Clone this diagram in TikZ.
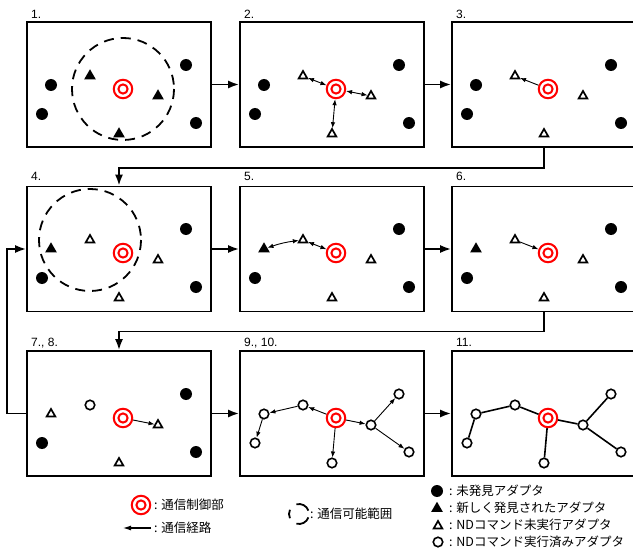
\documentclass[tikz,border=0pt]{standalone}
\usepackage{fontspec}
\setmainfont{Liberation Sans}
\newfontfamily\jp{Noto Sans CJK JP}
\usetikzlibrary{shapes.geometric,arrows.meta}
\tikzset{
  panel/.style={draw, line width=1.8pt, minimum width=184pt, minimum height=125pt, inner sep=0pt},
  fc/.style={circle, fill=black, minimum size=12pt, inner sep=0pt},
  ft/.style={regular polygon, regular polygon sides=3, fill=black, minimum size=13.5pt, inner sep=0pt},
  ot/.style={regular polygon, regular polygon sides=3, draw, line width=1.7pt, minimum size=10pt, inner sep=0pt},
  oc/.style={circle, draw, line width=1.6pt, minimum size=9.5pt, inner sep=0pt},
  tgt/.style={circle, draw=red, line width=2pt, minimum size=18.5pt, inner sep=0pt,
    path picture={\draw[red, line width=2pt] (path picture bounding box.center) circle[radius=4.6pt];}},
  rangeline/.style={line width=1.8pt, dash pattern=on 10pt off 7pt},
  flow/.style={line width=1.8pt, -{Latex[length=11pt,width=8pt]}},
  comm/.style={line width=0.9pt, -{Latex[length=6pt,width=4.5pt]}},
  comm2/.style={line width=0.9pt, {Latex[length=6pt,width=4.5pt]}-{Latex[length=6pt,width=4.5pt]}},
  link/.style={line width=1.6pt},
  lab/.style={anchor=base west, inner sep=0pt, font=\fontsize{12}{14}\selectfont},
  leg/.style={anchor=west, inner sep=0pt, font=\jp\fontsize{12.5}{14}\selectfont},
}
\begin{document}
\begin{tikzpicture}[x=1pt,y=-1pt]
\useasboundingbox (0,0) rectangle (633,551);
\clip (0,0) rectangle (633,551);

% ---------- panel 1 ----------
\node[panel] (b1) at (119,84.5) {};
\node[lab] (n1) at (31,19) {1.};
\node[fc] (p1a) at (51,85) {};
\node[fc] (p1b) at (42,114) {};
\node[fc] (p1c) at (186,65) {};
\node[fc] (p1d) at (196,123) {};
\node[ft] (p1t) at (90,76) {};
\node[ft] (p1u) at (158,96) {};
\node[ft] (p1v) at (119,134) {};
\node[tgt] (p1r) at (123,89) {};
\draw[rangeline] (p1r.center) circle[radius=51];

% ---------- panel 2 ----------
\begin{scope}[shift={(213,0)}]
\node[panel] (b2) at (119,84.5) {};
\node[lab] (n2) at (31,19) {2.};
\node[fc] (p2a) at (51,85) {};
\node[fc] (p2b) at (42,114) {};
\node[fc] (p2c) at (186,65) {};
\node[fc] (p2d) at (196,123) {};
\node[ot] (p2t) at (90,76) {};
\node[ot] (p2u) at (158,96) {};
\node[ot] (p2v) at (119,134) {};
\node[tgt] (p2r) at (123,89) {};
\draw[comm2] (p2r) -- (p2t);
\draw[comm2] (p2r) -- (p2u);
\draw[comm2] (p2r) -- (p2v);
\end{scope}

% ---------- panel 3 ----------
\begin{scope}[shift={(425,0)}]
\node[panel] (b3) at (119,84.5) {};
\node[lab] (n3) at (31,19) {3.};
\node[fc] (p3a) at (51,85) {};
\node[fc] (p3b) at (42,114) {};
\node[fc] (p3c) at (186,65) {};
\node[fc] (p3d) at (196,123) {};
\node[ot] (p3t) at (90,76) {};
\node[ot] (p3u) at (158,96) {};
\node[ot] (p3v) at (119,134) {};
\node[tgt] (p3r) at (123,89) {};
\draw[comm] (p3r) -- (p3t);
\end{scope}

% ---------- panel 4 ----------
\begin{scope}[shift={(0,164)}]
\node[panel] (b4) at (119,85) {};
\node[lab] (n4) at (31,17) {4.};
\node[ft] (p4a) at (51,85) {};
\node[fc] (p4b) at (42,114) {};
\node[fc] (p4c) at (186,65) {};
\node[fc] (p4d) at (196,123) {};
\node[ot] (p4t) at (90,76) {};
\node[ot] (p4u) at (158,96) {};
\node[ot] (p4v) at (119,134) {};
\node[tgt] (p4r) at (123,89) {};
\draw[rangeline] (p4t.center) circle[radius=51];
\end{scope}

% ---------- panel 5 ----------
\begin{scope}[shift={(213,164)}]
\node[panel] (b5) at (119,85) {};
\node[lab] (n5) at (31,17) {5.};
\node[ft] (p5a) at (51,85) {};
\node[fc] (p5b) at (42,114) {};
\node[fc] (p5c) at (186,65) {};
\node[fc] (p5d) at (196,123) {};
\node[ot] (p5t) at (90,76) {};
\node[ot] (p5u) at (158,96) {};
\node[ot] (p5v) at (119,134) {};
\node[tgt] (p5r) at (123,89) {};
\draw[comm2] (p5a) to[bend left=6] (p5t);
\draw[comm2] (p5t) -- (p5r);
\end{scope}

% ---------- panel 6 ----------
\begin{scope}[shift={(425,164)}]
\node[panel] (b6) at (119,85) {};
\node[lab] (n6) at (31,17) {6.};
\node[ft] (p6a) at (51,85) {};
\node[fc] (p6b) at (42,114) {};
\node[fc] (p6c) at (186,65) {};
\node[fc] (p6d) at (196,123) {};
\node[ot] (p6t) at (90,76) {};
\node[ot] (p6u) at (158,96) {};
\node[ot] (p6v) at (119,134) {};
\node[tgt] (p6r) at (123,89) {};
\draw[comm] (p6t) -- (p6r);
\end{scope}

% ---------- panel 7,8 ----------
\begin{scope}[shift={(0,329)}]
\node[panel] (b7) at (119,84.5) {};
\node[lab] (n7) at (31,17) {7., 8.};
\node[ot] (p7a) at (51,85) {};
\node[fc] (p7b) at (42,114) {};
\node[fc] (p7c) at (186,65) {};
\node[fc] (p7d) at (196,123) {};
\node[oc] (p7t) at (90,76) {};
\node[ot] (p7u) at (158,96) {};
\node[ot] (p7v) at (119,134) {};
\node[tgt] (p7r) at (123,89) {};
\draw[comm] (p7r) -- (p7u);
\end{scope}

% ---------- panel 9,10 ----------
\begin{scope}[shift={(213,329)}]
\node[panel] (b9) at (119,84.5) {};
\node[lab] (n9) at (31,17) {9., 10.};
\node[oc] (p9a) at (51,85) {};
\node[oc] (p9b) at (42,114) {};
\node[oc] (p9c) at (186,65) {};
\node[oc] (p9d) at (196,123) {};
\node[oc] (p9t) at (90,76) {};
\node[oc] (p9u) at (158,96) {};
\node[oc] (p9v) at (119,134) {};
\node[tgt] (p9r) at (123,89) {};
\draw[comm] (p9r) -- (p9t);
\draw[comm] (p9t) -- (p9a);
\draw[comm] (p9a) -- (p9b);
\draw[comm] (p9r) -- (p9u);
\draw[comm] (p9u) -- (p9c);
\draw[comm] (p9u) -- (p9d);
\draw[comm] (p9r) -- (p9v);
\end{scope}

% ---------- panel 11 ----------
\begin{scope}[shift={(425,329)}]
\node[panel] (b11) at (119,84.5) {};
\node[lab] (n11) at (31,17) {11.};
\node[oc] (p11a) at (51,85) {};
\node[oc] (p11b) at (42,114) {};
\node[oc] (p11c) at (186,65) {};
\node[oc] (p11d) at (196,123) {};
\node[oc] (p11t) at (90,76) {};
\node[oc] (p11u) at (158,96) {};
\node[oc] (p11v) at (119,134) {};
\node[tgt] (p11r) at (123,89) {};
\draw[link] (p11r) -- (p11t);
\draw[link] (p11t) -- (p11a);
\draw[link] (p11a) -- (p11b);
\draw[link] (p11r) -- (p11u);
\draw[link] (p11u) -- (p11c);
\draw[link] (p11u) -- (p11d);
\draw[link] (p11r) -- (p11v);
\end{scope}

% ---------- flow arrows ----------
\draw[flow] (b1.east) -- (b2.west);
\draw[flow] (b2.east) -- (b3.west);
\draw[flow] (b3.south) -- ++(0,20) -| (b4.north);
\draw[flow] (b4.east) -- (b5.west);
\draw[flow] (b5.east) -- (b6.west);
\draw[flow] (b6.south) -- ++(0,19) -| (b7.north);
\draw[flow] (b7.west) -- ++(-19,0) |- (b4.west);
\draw[flow] (b7.east) -- (b9.west);
\draw[flow] (b9.east) -- (b11.west);

% ---------- legend ----------
\node[tgt] (lt) at (141,505) {};
\node[leg] (ltt) at (154,505) {: 通信制御部};
\coordinate (la1) at (151,528);
\coordinate (la2) at (123,528);
\draw[line width=1.1pt, -{Latex[length=8pt,width=5pt]}] (la1) -- (la2);
\node[leg] (lat) at (154,528) {: 通信経路};
\coordinate (ld) at (299,514);
\draw[line width=1.8pt] (ld) ++(20:10) arc[start angle=20, end angle=105, radius=10];
\draw[line width=1.8pt] (ld) ++(-20:10) arc[start angle=-20, end angle=-105, radius=10];
\draw[line width=1.8pt] (ld) ++(155:10) arc[start angle=155, end angle=205, radius=10];
\node[leg] (ldt) at (310,514) {: 通信可能範囲};

\node[fc] (l1) at (437,491) {};
\node[leg] (l1t) at (449,491) {: 未発見アダプタ};
\node[ft] (l2) at (437,508.5) {};
\node[leg] (l2t) at (449,508) {: 新しく発見されたアダプタ};
\node[ot] (l3) at (438,526) {};
\node[leg] (l3t) at (449,525) {: NDコマンド未実行アダプタ};
\node[oc] (l4) at (438,542) {};
\node[leg] (l4t) at (449,542) {: NDコマンド実行済みアダプタ};
\end{tikzpicture}
\end{document}
